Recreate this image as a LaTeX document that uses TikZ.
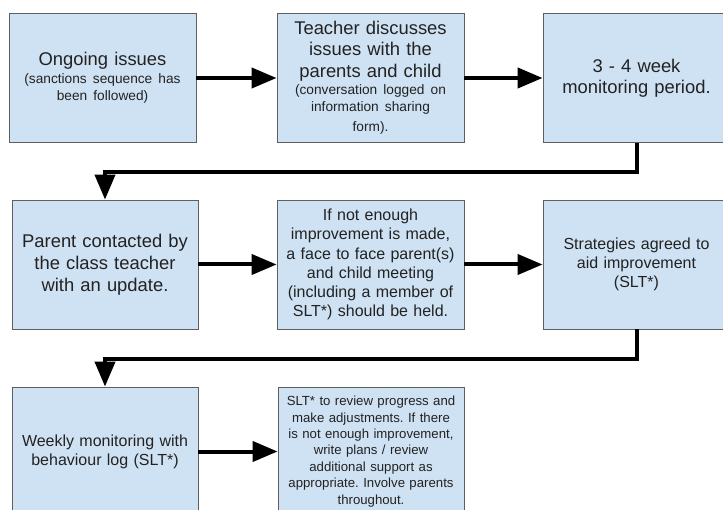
\documentclass[tikz,border=0pt]{standalone}
\usepackage{fontspec}
\setmainfont{Liberation Sans}
\usetikzlibrary{arrows.meta}
\definecolor{boxfill}{HTML}{CFE2F3}
\definecolor{boxdraw}{HTML}{5F5F5F}
\definecolor{txt}{HTML}{222222}
\newcommand{\fsbig}{\fontsize{18.4}{21.3}\selectfont}
\newcommand{\fssmall}{\fontsize{13.7}{17.2}\selectfont}
\newcommand{\fsmid}{\fontsize{16}{19.1}\selectfont}
\newcommand{\fstiny}{\fontsize{13.2}{16.4}\selectfont}
\begin{document}
\frenchspacing
\begin{tikzpicture}[x=1pt,y=-1pt,
  box/.style={draw=boxdraw, fill=boxfill, line width=0.8pt, minimum width=187pt,
    minimum height=129pt, text width=184pt, align=center, inner sep=0pt, text=txt},
  conn/.style={line width=4pt, -{Triangle[length=25pt,width=20pt]}}]
\useasboundingbox (0,0) rectangle (723,510);
% row 1
\node[box, font=\fsbig] (b1) at (102.5,78) {Ongoing issues\par\vspace{1pt}\fssmall (sanctions sequence has\\ been followed)\par};
\node[box, font=\fsbig] (b2) at (370.5,78) {Teacher discusses\\ issues with the\\ parents and child\par\fssmall (conversation logged on\\ information sharing\\[3pt] form).\par};
\node[box, font=\fsbig] (b3) at (636.5,78) {3 - 4 week\\ monitoring period.\par};
% row 2
\node[box, minimum width=186pt, font=\fontsize{18.4}{22}\selectfont] (b4) at (105,264.5) {Parent contacted by\\ the class teacher\\ with an update.\par};
\node[box, font=\fsmid] (b5) at (370.5,264.5) {If not enough\\ improvement is made,\\ a face to face parent(s)\\ and child meeting\\ (including a member of\\ SLT*) should be held.\par};
\node[box, font=\fsmid] (b6) at (636.5,264.5) {Strategies agreed to\\ aid improvement\\ (SLT*)\par};
% row 3
\node[box, minimum width=186pt, font=\fsmid] (b7) at (105,451.5) {Weekly monitoring with\\ behaviour log (SLT*)\par};
\node[box, minimum width=186pt, font=\fstiny] (b8) at (371,451.5) {SLT* to review progress and\\ make adjustments. If there\\ is not enough improvement,\\ write plans / review\\ additional support as\\ appropriate. Involve parents\\ throughout.\par};
% connectors
\draw[conn] (b1) -- (b2);
\draw[conn] (b2) -- (b3);
\draw[conn] (b3.south) -- ++(0,29) -| (b4.north);
\draw[conn] (b4) -- (b5);
\draw[conn] (b5) -- (b6);
\draw[conn] (b6.south) -- ++(0,30) -| (b7.north);
\draw[conn] (b7) -- (b8);
\end{tikzpicture}
\end{document}
